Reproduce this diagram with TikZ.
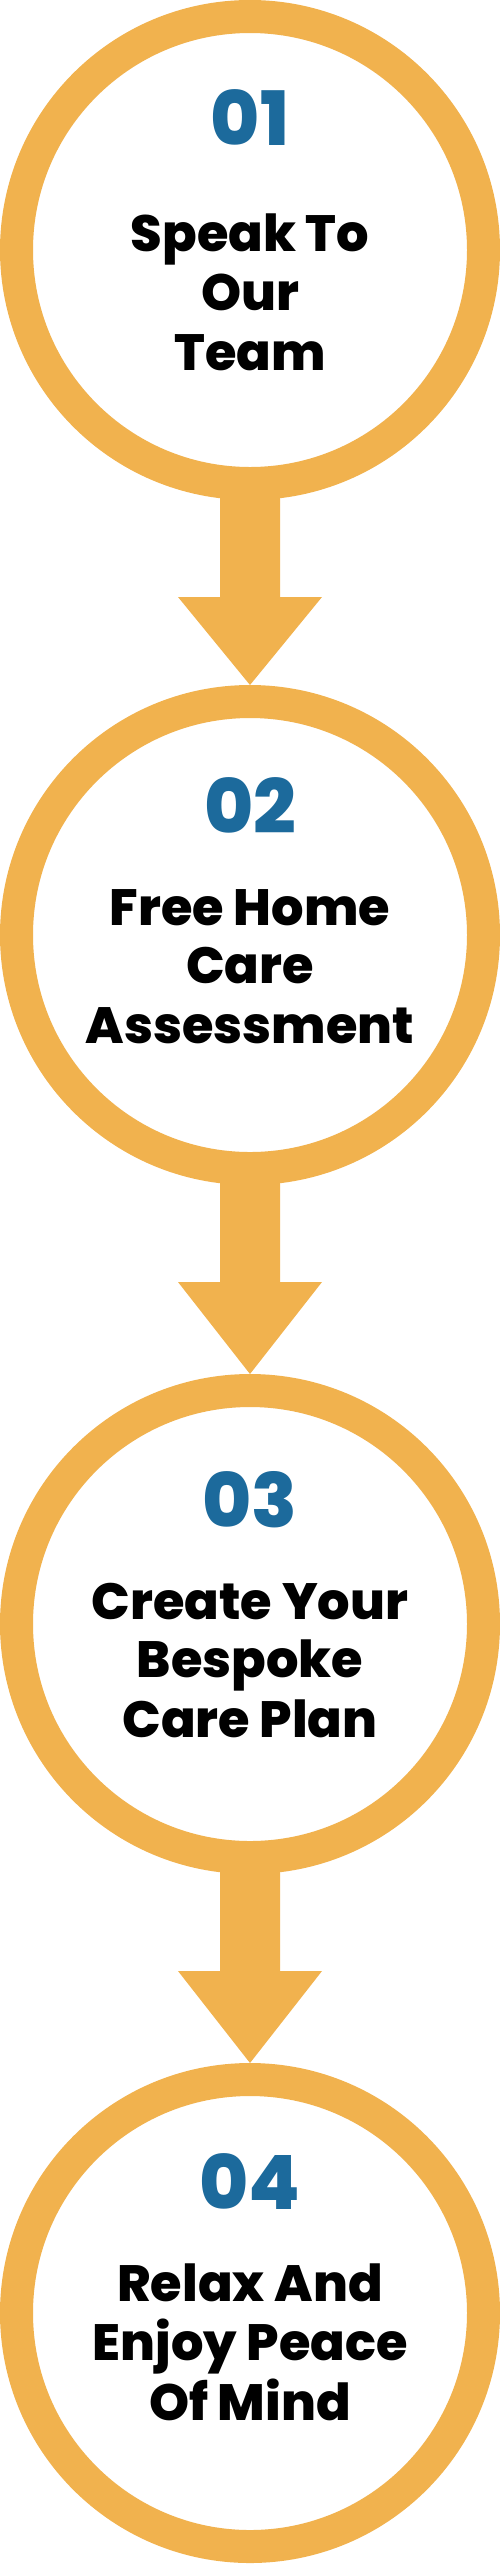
\documentclass[tikz,border=0pt]{standalone}
\usepackage{fontspec}
\setmainfont{Poppins}[BoldFont={Poppins ExtraBold}]
\usetikzlibrary{calc,backgrounds}
\definecolor{ring}{HTML}{F1B24E}
\definecolor{numblue}{HTML}{1C6A9C}
\begin{document}
\begin{tikzpicture}[x=1pt,y=-1pt,
  stepring/.style={circle, draw=ring, line width=33pt, fill=white, minimum size=467pt, inner sep=0pt},
  numtxt/.style={font=\bfseries\fontsize{75}{75}\selectfont, text=numblue, anchor=base, inner sep=0pt},
  bodytxt/.style={font=\bfseries\fontsize{51}{60}\selectfont, text=black, anchor=base, inner sep=0pt},
  arrowfill/.style={fill=ring}]
\useasboundingbox (0,0) rectangle (500,2565);
% circles
\node[stepring] (c1) at (250,250) {};
\node[stepring] (c2) at (250,935) {};
\node[stepring] (c3) at (250,1624) {};
\node[stepring] (c4) at (250,2313) {};
% numbers
\node[numtxt] (n1) at ($(c1.center)+(0,-105)$) {01};
\node[numtxt] (n2) at ($(c2.center)+(0,-102)$) {02};
\node[numtxt] (n3) at ($(c3.center)+(0,-97)$) {03};
\node[numtxt] (n4) at ($(c4.center)+(0,-104)$) {04};
% texts
\node[bodytxt] (t1a) at ($(c1.center)+(0,1)$) {Speak To};
\node[bodytxt] (t1b) at ($(c1.center)+(0,60)$) {Our};
\node[bodytxt] (t1c) at ($(c1.center)+(0,120)$) {Team};
\node[bodytxt] (t2a) at ($(c2.center)+(0,-10)$) {Free Home};
\node[bodytxt] (t2b) at ($(c2.center)+(0,48)$) {Care};
\node[bodytxt] (t2c) at ($(c2.center)+(0,108)$) {Assessment};
\node[bodytxt] (t3a) at ($(c3.center)+(0,-5)$) {Create Your};
\node[bodytxt] (t3b) at ($(c3.center)+(0,53)$) {Bespoke};
\node[bodytxt] (t3c) at ($(c3.center)+(0,113)$) {Care Plan};
\node[bodytxt] (t4a) at ($(c4.center)+(0,-12)$) {Relax And};
\node[bodytxt] (t4b) at ($(c4.center)+(0,47)$) {Enjoy Peace};
\node[bodytxt] (t4c) at ($(c4.center)+(0,107)$) {Of Mind};
% arrows
\begin{scope}[on background layer]
\foreach \a/\b in {c1/c2,c2/c3,c3/c4}{
  \fill[arrowfill] ($(\a.south)+(-30,-20)$) -- ($(\a.south)+(30,-20)$) -- ($(\a.south)+(30,97)$)
    -- ($(\a.south)+(72,97)$) -- (\b.north) -- ($(\a.south)+(-72,97)$) -- ($(\a.south)+(-30,97)$) -- cycle;
}
\end{scope}
\end{tikzpicture}
\end{document}
